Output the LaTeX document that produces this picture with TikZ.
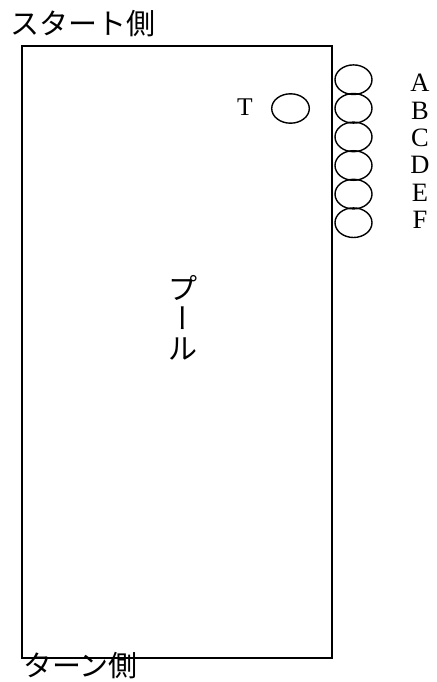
\documentclass[tikz,border=0pt]{standalone}
\usepackage{fontspec}
\setmainfont{Liberation Serif}
\newfontfamily\cjk{Noto Sans CJK JP}
\newfontfamily\cjkv[RawFeature=+vert]{Noto Sans CJK JP}
\begin{document}
\begin{tikzpicture}[x=1pt,y=-1pt,
  lbl/.style={inner sep=0pt, font=\fontsize{26.5}{26.5}\selectfont},
  jp/.style={inner sep=0pt, font=\fontsize{29}{30}\selectfont\cjk}]
\useasboundingbox (0,0) rectangle (436,682);
\node[draw, line width=1.8pt, minimum width=310pt, minimum height=612pt, inner sep=0pt] (pool) at (176.7,352.3) {};
\foreach \n [count=\i from 0] in {A,B,C,D,E,F}{
  \draw[line width=1.4pt] (353.5,{79.7+28.6*\i}) ellipse [x radius=18.5, y radius=14.8];
  \node[lbl] (l\n) at (420,{83+27.4*\i}) {\n};
}
\draw[line width=1.4pt] (290.5,108.5) ellipse [x radius=18.8, y radius=14.7];
\node[lbl, font=\fontsize{25.5}{25.5}\selectfont] (T) at (245,107.5) {T};
\node[jp, anchor=west] (start) at (10,24) {スタート側};
\node[jp, anchor=west] (turn) at (23,666) {ターン側};
\node[jp, align=center] (pl) at (183,318) {プ\\{\cjkv ー}\\ル};
\end{tikzpicture}
\end{document}
